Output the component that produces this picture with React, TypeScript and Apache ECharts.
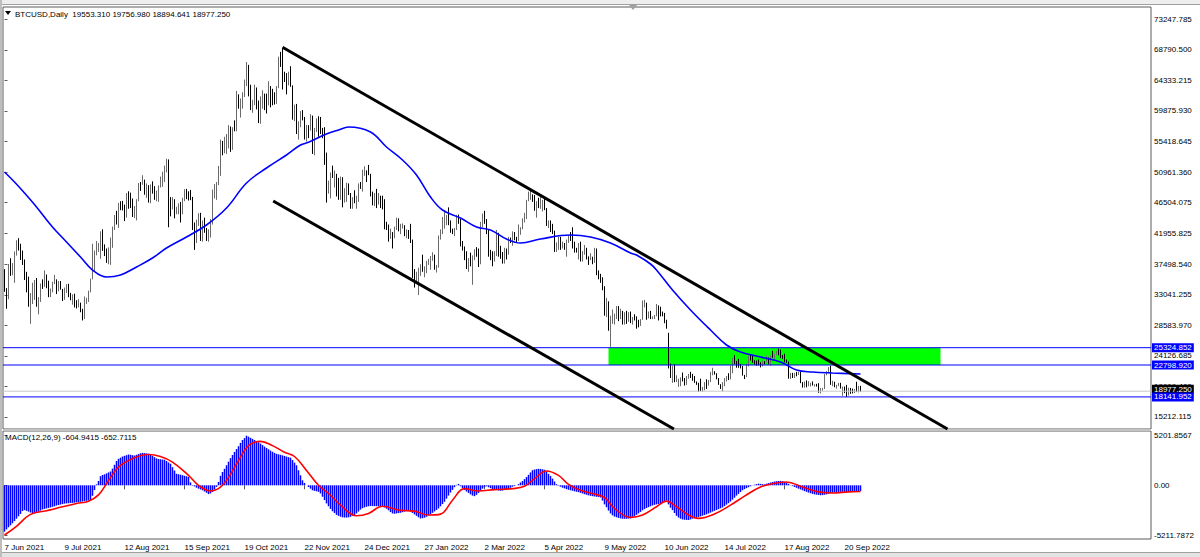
import { useEffect, useRef } from "react";
import * as echarts from "echarts";

// ---------- axis ticks ----------
const dateTickIndex = [0, 30, 60, 90, 120, 150, 180, 210, 240, 270, 300, 330, 360, 390, 420];
const dateTickLabels = [
  "7 Jun 2021", "9 Jul 2021", "12 Aug 2021", "15 Sep 2021", "19 Oct 2021", "22 Nov 2021",
  "24 Dec 2021", "27 Jan 2022", "2 Mar 2022", "5 Apr 2022", "9 May 2022", "10 Jun 2022",
  "14 Jul 2022", "17 Aug 2022", "20 Sep 2022",
];
const priceTicks = [
  15212.115, 19669.4, 24126.685, 28583.97, 33041.255, 37498.54, 41955.825,
  46504.075, 50961.36, 55418.645, 59875.93, 64333.215, 68790.5, 73247.785,
];
const macdTicks = [5201.8567, 0, -5211.7872];

// ---------- BTCUSD daily bars ----------
const opens = [
  35800,33560,33470,37345,36700,37340,39100,40520,40140,38350,
  38050,35800,35700,31680,32500,33680,34660,31600,32160,34650,
  34430,35870,35040,33570,33900,34700,35290,33690,34220,33860,
  32880,33820,34260,33090,32730,32820,31780,31420,31800,30820,
  29790,32110,32310,33580,35380,37270,39460,40000,40010,42240,
  39970,39200,38150,39750,40870,42820,44600,43800,46360,45590,
  45550,44430,47810,47040,45950,44690,44740,46760,49340,49320,
  49550,47700,48990,46840,49070,48830,47050,47170,48850,49330,
  50030,51770,52660,46860,46050,46400,44850,45170,46030,44960,
  47090,48150,47750,47300,47260,43010,40730,43570,44890,42840,
  43210,42230,41030,41560,43790,48120,48200,49110,51510,55360,
  53810,53970,54660,57470,56000,57370,57350,61670,60880,61530,
  62000,64280,66000,62210,60690,60860,63080,60320,58480,60620,
  62230,61320,61000,63230,62940,61450,61130,63310,67570,66970,
  64880,64770,64150,65500,63560,60170,60370,56940,58120,59750,
  58730,56290,57570,57200,58960,53730,57270,57800,57000,56950,
  56510,53600,49200,49360,50580,50470,50640,47590,47140,50050,
  46700,48340,48860,47630,46130,46830,46680,46910,48930,48630,
  50780,50820,50800,50640,47590,46440,47180,46300,47340,46460,
  45900,43570,43160,41560,41910,41820,42740,43950,42590,43100,
  43110,42250,42380,41680,40700,36460,35070,36280,36650,36950,
  36850,37140,37710,37920,38480,38740,36950,37150,41570,42410,
  43840,44120,44340,43570,42400,42090,42550,44580,43960,40540,
  40030,38430,37020,38280,37300,38330,39210,39110,37710,43190,
  44350,43920,42450,39140,38420,38060,38740,41980,39440,38790,
  37850,39670,39340,41140,40950,41800,41250,41070,42360,42890,
  43960,44350,46820,47130,47470,47060,45540,46280,45860,46450,
  46620,45560,43200,43500,42290,42210,39520,40090,41150,39940,
  40550,39700,40830,41500,41370,40530,39740,39470,40460,38120,
  39240,39740,38600,38470,38530,37750,39700,36580,36040,35500,
  34060,30300,31020,28940,29050,29280,30100,31300,29860,30420,
  28720,30310,29200,30320,29100,29650,29560,29270,28630,29470,
  31730,31790,29800,30470,29700,29860,29910,31370,31130,30210,
  30110,29080,27500,22490,22210,22570,20380,20470,20550,20720,
  20710,19990,21090,21230,21030,20730,20280,20100,19780,19300,
  19300,20230,20190,20550,21640,21730,21590,20860,19970,19320,
  20210,20570,20830,20790,22430,23390,23230,23160,22680,22580,
  21310,21250,22950,23840,23800,23300,23270,22990,22820,22610,
  23310,23170,23810,23160,23950,23940,24400,24440,24310,24100,
  23850,23340,23210,20830,21520,21400,21530,21370,21570,20260,
  19550,20290,19800,20050,20130,19950,19990,19800,18790,19290,
  19320,21360,21830,22400,20170,20230,19700,19800,20110,19420,
  19540,18880,18550,19410,19300,18800,19220,19110,19553.31,
];
const highs = [
  36790,34020,37530,38390,37680,39380,41000,41300,40500,39500,
  38200,36400,35700,33300,34800,35200,35500,32700,34700,35300,
  36600,36000,35100,33950,34950,35950,35300,35050,35050,33900,
  34100,34600,34650,33330,33100,33200,32250,32400,31900,31000,
  32800,32600,33650,35400,40500,39500,40900,40600,42300,42600,
  40400,39800,39950,41400,43000,44700,45300,46450,46700,46750,
  46200,47900,48150,47950,47100,46000,47000,49350,49500,50500,
  49850,49300,49050,49150,49600,48900,48250,49000,50300,51000,
  51900,52900,52800,47300,47300,47000,45900,46400,46600,47200,
  48450,48500,48150,48350,47330,43600,44000,44950,45000,43900,
  44300,42800,42600,44100,48400,49200,49500,51850,55700,55500,
  56100,56500,57800,57600,57500,58500,62800,62300,61700,62600,
  64450,67000,66600,63700,61500,63700,63300,61400,62000,62900,
  62400,62400,64200,63500,63100,62600,63500,67800,68500,69000,
  65600,65400,65600,66400,63600,60800,60900,58350,59850,60000,
  59000,57850,57800,59400,59200,57400,58800,59100,59000,57400,
  57500,53800,49700,50900,51900,51200,50700,50100,50300,50200,
  48600,49400,49300,47900,47300,48300,47500,49300,49500,51300,
  51800,51200,52000,50700,48100,47900,48500,47900,47500,47500,
  47000,43700,43300,42700,42200,43000,44300,44200,43400,43450,
  43200,42600,42500,43400,41100,36800,36400,37000,37500,38900,
  37200,38000,38300,38700,39250,38900,37400,41700,42600,44400,
  45400,44700,45800,43900,42700,42800,44700,44750,44100,40900,
  40100,39400,38400,39200,38800,39700,40000,39800,43700,44900,
  45300,44100,42500,39600,39400,39400,42500,42100,40200,39300,
  39900,39800,41500,41400,42300,42200,41500,43300,42900,44200,
  45000,46900,48100,48200,47700,47600,46700,47200,47400,46900,
  47200,45700,43900,43900,43400,42400,40700,41500,41500,40800,
  40600,41100,41700,42200,42900,40800,39900,40600,40800,39450,
  40300,39900,38650,39100,38600,39900,39800,36600,36100,35600,
  34300,32600,32100,30000,30900,30300,31400,31400,31000,30700,
  30500,30700,30500,30600,29800,30200,29900,29400,29500,32200,
  32300,31900,30600,30700,29900,30100,31700,31500,31300,30600,
  30400,29400,27500,23000,22700,22900,21300,20800,21000,21700,
  20900,21200,21500,21800,21500,21200,20400,20200,20800,19600,
  20300,20700,20600,21800,22400,21900,21600,20900,20000,20300,
  20900,21200,21600,22700,23800,24250,23400,23700,22950,22650,
  21350,23000,24150,24400,24150,23500,23450,23600,23200,23450,
  23350,24200,23900,24200,24850,24450,24850,25200,25050,24250,
  24450,23600,23300,21650,21650,21650,21800,21800,21850,20300,
  20400,20550,20450,20200,20400,20000,20050,20150,19450,19450,
  21500,21900,22500,22700,20500,20350,19900,20200,20200,19650,
  19650,19900,19500,19450,19350,19300,20350,19750,19756.98,
];
const lows = [
  33480,31000,32400,35800,35900,34800,38760,39500,38120,37400,
  35200,33400,31300,28800,31700,32300,31300,30200,32000,33900,
  34200,34000,32700,32700,33400,34600,33150,33550,33800,32130,
  32300,33300,32700,32250,31600,31200,31050,31200,30500,29300,
  29500,31700,32000,33400,35300,36400,38800,39300,38300,39450,
  38700,37700,37500,37400,39900,42500,43300,42800,45400,45350,
  43800,44300,45600,45700,44400,44250,43900,46700,48200,49100,
  47650,47200,46500,46400,47800,46900,46700,46600,48700,48800,
  49500,50900,42900,44500,45500,44200,44800,44800,43600,44800,
  46700,47000,46800,46850,42500,39600,40600,43100,40900,40800,
  42100,40900,40800,41400,43300,47100,46900,49050,50400,53400,
  53700,53600,54400,53900,54200,56900,56900,60200,58900,60200,
  61900,63500,62000,60000,59600,60700,60100,58100,58000,60200,
  60000,59500,60700,60400,60700,60800,60900,63200,66300,63000,
  64100,62300,63600,63400,58600,58400,56500,55700,57500,58500,
  55700,55400,55900,57000,53600,53400,56800,56100,56500,55900,
  52000,46500,47800,47100,50100,48700,47400,46900,46900,45800,
  46500,46600,47600,45600,45600,46400,45600,46600,48500,48100,
  50400,49500,50500,47400,46100,46000,45700,46200,45700,45500,
  42600,42500,40800,41200,39800,41300,42500,42300,41900,42700,
  41600,41300,41200,40600,35500,34100,34700,33000,35800,36400,
  35600,36200,37400,36700,38000,36700,36300,37000,41100,41900,
  42700,43200,43200,42100,41900,41600,42500,43400,40100,39500,
  38100,36800,36400,37200,34500,38100,38600,37100,37500,42900,
  43400,41900,38600,38100,37200,37900,38700,38600,38300,37600,
  37600,38200,38900,40600,40200,41000,40600,40900,41800,42600,
  43600,44100,46700,46900,46600,45300,44300,45700,45600,45200,
  45400,43100,42800,42200,41900,39300,39300,39600,39600,39800,
  39600,38600,40600,40900,39800,39200,39200,38200,37900,37900,
  38900,38200,37400,38100,37500,37700,35900,35300,34800,33700,
  30000,29800,27800,25450,28800,28700,29500,29200,29500,28700,
  28700,28800,29100,28900,28700,29300,28100,28300,28500,29400,
  31200,29400,29600,29500,29500,29500,29900,29300,29900,29900,
  28900,28100,22300,20900,20200,20300,20300,19600,19700,20400,
  19800,19900,20800,20900,20500,20200,19900,18900,19000,18900,
  19100,19300,19800,20300,21300,21400,20700,19900,19300,18950,
  19700,20400,20600,20700,21600,22950,22400,22400,22300,21250,
  20750,21050,22600,23450,23100,22850,22700,22750,22450,22600,
  22900,23150,22900,22700,23850,23600,24300,24200,23800,23700,
  23200,23100,20800,20750,20900,20900,21150,21350,20150,19500,
  19500,19550,19700,19650,19800,19650,19650,18750,18650,19050,
  19300,21300,21600,19900,19700,19550,19350,19700,19350,18300,
  18700,18141.952,18350,18600,18650,18700,18850,18800,18894.641,
];
const closes = [
  33560,33470,37345,36700,37340,39100,40520,40140,38350,38050,
  35800,35700,31680,32500,33680,34660,31600,32160,34650,34430,
  35870,35040,33570,33900,34700,35290,33690,34220,33860,32880,
  33820,34260,33090,32730,32820,31780,31420,31800,30820,29790,
  32110,32310,33580,35380,37270,39460,40000,40010,42240,39970,
  39200,38150,39750,40870,42820,44600,43800,46360,45590,45550,
  44430,47810,47040,45950,44690,44740,46760,49340,49320,49550,
  47700,48990,46840,49070,48830,47050,47170,48850,49330,50030,
  51770,52660,46860,46050,46400,44850,45170,46030,44960,47090,
  48150,47750,47300,47260,43010,40730,43570,44890,42840,43210,
  42230,41030,41560,43790,48120,48200,49110,51510,55360,53810,
  53970,54660,57470,56000,57370,57350,61670,60880,61530,62000,
  64280,66000,62210,60690,60860,63080,60320,58480,60620,62230,
  61320,61000,63230,62940,61450,61130,63310,67570,66970,64880,
  64770,64150,65500,63560,60170,60370,56940,58120,59750,58730,
  56290,57570,57200,58960,53730,57270,57800,57000,56950,56510,
  53600,49200,49360,50580,50470,50640,47590,47140,50050,46700,
  48340,48860,47630,46130,46830,46680,46910,48930,48630,50780,
  50820,50800,50640,47590,46440,47180,46300,47340,46460,45900,
  43570,43160,41560,41910,41820,42740,43950,42590,43100,43110,
  42250,42380,41680,40700,36460,35070,36280,36650,36950,36850,
  37140,37710,37920,38480,38740,36950,37150,41570,42410,43840,
  44120,44340,43570,42400,42090,42550,44580,43960,40540,40030,
  38430,37020,38280,37300,38330,39210,39110,37710,43190,44350,
  43920,42450,39140,38420,38060,38740,41980,39440,38790,37850,
  39670,39340,41140,40950,41800,41250,41070,42360,42890,43960,
  44350,46820,47130,47470,47060,45540,46280,45860,46450,46620,
  45560,43200,43500,42290,42210,39520,40090,41150,39940,40550,
  39700,40830,41500,41370,40530,39740,39470,40460,38120,39240,
  39740,38600,38470,38530,37750,39700,36580,36040,35500,34060,
  30300,31020,28940,29050,29280,30100,31300,29860,30420,28720,
  30310,29200,30320,29100,29650,29560,29270,28630,29470,31730,
  31790,29800,30470,29700,29860,29910,31370,31130,30210,30110,
  29080,28400,22490,22210,22570,20380,20470,20550,20720,20710,
  19990,21090,21230,21030,20730,20280,20100,19780,19300,19300,
  20230,20190,20550,21640,21730,21590,20860,19970,19320,20210,
  20570,20830,20790,22430,23390,23230,23160,22680,22580,21310,
  21250,22950,23840,23800,23300,23270,22990,22820,22610,23310,
  23170,23810,23160,23950,23940,24400,24440,24310,24100,23850,
  23340,23210,20830,21520,21400,21530,21370,21570,20260,19550,
  20290,19800,20050,20130,19950,19990,19800,18790,19290,19320,
  21360,21830,22400,20170,20230,19700,19800,20110,19420,19540,
  18880,18550,19410,19300,18800,19220,19110,19553.31,18977.25,
];

// ---------- moving average (blue), read at bar index ----------
const maPoints = [
  [0,50960],[5,49500],[10,47900],[16,45860],[24,42940],[31,40750],[38,38560],[44,36660],
  [51,35640],[58,35930],[66,37100],[74,38410],[81,39870],[91,41480],[101,43230],[111,45710],
  [121,49360],[131,51550],[141,53450],[148,54900],[152,55300],[161,56510],[167,57100],[172,57530],
  [183,56800],[191,54610],[199,52720],[206,50530],[213,47320],[219,45420],[228,44250],[236,42940],
  [243,42500],[251,41190],[258,40600],[268,41190],[283,41770],[293,41480],[303,40600],[313,39140],
  [316,38850],[323,37540],[326,36660],[334,33740],[343,30830],[353,27910],[361,25720],[368,24700],
  [378,23970],[388,23240],[396,22070],[404,21780],[414,21630],[428,21490],
];

// ---------- MACD(12,26,9) ----------
const macdMain = [
  -4860,-4620,-4400,-4200,-3980,-3750,-3500,-3250,-3000,-2700,
  -2600,-2680,-2760,-2850,-2920,-2950,-2870,-2760,-2650,-2530,
  -2480,-2420,-2370,-2320,-2260,-2200,-2120,-2070,-2020,-1970,
  -1920,-1900,-1880,-1860,-1840,-1820,-1790,-1760,-1730,-1700,
  -1660,-1620,-1590,-1560,-1100,-500,100,450,950,1080,
  1150,1250,1350,1450,1750,2150,2550,2780,2900,3020,
  3090,3160,3230,3200,3160,3120,3200,3280,3360,3400,
  3380,3350,3310,3220,3080,2950,2820,2760,2730,2700,
  2680,2550,2400,2260,1900,1550,1210,1160,1110,1060,
  1000,950,880,300,-50,-120,-250,-350,-430,-520,
  -650,-780,-920,-850,-700,-450,-170,350,1000,1400,
  1730,2100,2480,2850,3180,3500,3800,4100,4450,4750,
  4950,5201.8567,5100,4980,4870,4750,4630,4520,4380,4220,
  4060,3920,3780,3640,3520,3400,3300,3250,3200,3140,
  3080,3010,2950,2890,2650,2380,2100,1580,1050,520,
  250,0,-180,-350,-520,-580,-630,-680,-850,-1200,
  -1550,-1900,-2200,-2480,-2720,-2900,-3100,-3200,-3290,-3360,
  -3380,-3380,-3360,-3300,-3200,-3120,-2950,-2750,-2550,-2400,
  -2320,-2250,-2200,-2180,-2180,-2190,-2190,-2210,-2240,-2280,
  -2320,-2450,-2620,-2800,-2950,-2980,-2950,-2910,-2880,-2820,
  -2760,-2700,-2650,-2750,-2900,-3050,-3200,-3350,-3480,-3450,
  -3400,-3300,-3150,-3020,-2890,-2740,-2590,-2430,-2200,-1970,
  -1730,-1400,-1080,-760,-480,-200,50,150,-100,-300,
  -500,-650,-800,-950,-1080,-1140,-1000,-800,-600,-350,
  -200,-100,-200,-300,-400,-460,-500,-540,-570,-560,
  -500,-440,-380,-250,-150,-80,0,120,300,450,
  650,870,1100,1350,1580,1650,1700,1730,1720,1680,
  1630,1450,1200,980,700,400,120,-50,-150,-250,
  -320,-400,-470,-520,-570,-630,-680,-720,-790,-860,
  -930,-990,-1050,-1100,-1140,-1170,-1200,-1230,-1280,-1600,
  -2000,-2300,-2650,-2950,-3150,-3280,-3350,-3420,-3470,-3500,
  -3510,-3510,-3490,-3470,-3360,-3230,-3100,-2950,-2790,-2620,
  -2500,-2380,-2290,-2200,-2110,-2050,-2000,-1960,-1920,-1800,
  -1650,-1600,-2000,-2350,-2600,-2900,-3200,-3380,-3500,-3580,
  -3610,-3630,-3640,-3580,-3500,-3440,-3380,-3320,-3260,-3190,
  -3120,-3040,-2950,-2860,-2760,-2680,-2590,-2500,-2410,-2320,
  -2180,-2020,-1870,-1700,-1500,-1300,-1080,-900,-700,-520,
  -400,-300,-200,-100,-20,60,120,170,150,120,
  100,170,230,290,340,400,430,450,460,420,
  350,270,150,20,-80,-170,-260,-350,-430,-520,
  -610,-690,-760,-830,-900,-950,-980,-1010,-1040,-1030,
  -990,-950,-890,-830,-780,-730,-700,-690,-690,-690,
  -690,-700,-690,-680,-690,-670,-650,-630,-604.9415,
];
const macdSignal = [
  [0,-5211.79],[6,-4300],[13,-3050],[21,-2670],[29,-2250],[36,-1910],[42,-1660],[47,-1000],
  [52,500],[57,1910],[65,2880],[72,3230],[78,3020],[84,2430],[92,1040],[97,0],[103,-590],
  [107,-350],[111,520],[117,2600],[122,4160],[128,4610],[134,4160],[140,3470],[145,3020],
  [151,1560],[157,0],[163,-1040],[168,-2080],[176,-3190],[182,-2950],[189,-2190],[197,-2600],
  [205,-2710],[212,-3120],[218,-3020],[224,-1560],[230,-350],[237,-590],[245,-450],[254,-350],
  [260,-100],[265,700],[271,1500],[277,1040],[282,100],[288,-520],[294,-870],[300,-1280],
  [305,-2430],[313,-3360],[319,-3120],[326,-2250],[331,-1660],[336,-2250],[342,-3120],
  [347,-3470],[355,-3020],[363,-2080],[370,-1140],[378,-170],[386,240],[391,350],[399,-170],
  [407,-690],[414,-800],[422,-690],[428,-652.7115],
];

// ---------- drawn objects ----------
const levelPrices = [25324.852, 22798.92, 18141.952];
const bidPrice = 18977.25;
const zoneIndex = [302, 468];
const zonePrices = [25324.852, 22798.92];
const upperTrend = [[139, 69162], [471.5, 13460]];
const lowerTrend = [[134.35, 46733], [334.7, 13460]];

const FONT = "Liberation Sans";
const X_MIN = -0.75;
const X_MAX = 573.25;

function levelSeries(name: string, price: number, lineColor: string, boxColor: string, dy: number) {
  return {
    type: "line",
    name,
    xAxisIndex: 0,
    yAxisIndex: 0,
    data: [[X_MIN, price], [X_MAX, price]],
    showSymbol: false,
    silent: true,
    lineStyle: { color: lineColor, width: 1, type: "solid" },
    endLabel: {
      show: true,
      distance: 1,
      offset: [0, dy],
      formatter: (p: any) => Number(p.value[1]).toFixed(3),
      color: "#ffffff",
      backgroundColor: boxColor,
      padding: [0, 2, 0, 2],
      fontSize: 8,
      lineHeight: 9,
      fontFamily: FONT,
    },
  };
}

function buildOption(): any {
  const last = closes.length - 1;
  const candleData = closes.map((c, i) => [i, opens[i], c, lows[i], highs[i]]);
  const histData = macdMain.map((v, i) => [i, v]);
  const header = `BTCUSD,Daily  ${opens[last].toFixed(3)} ${highs[last].toFixed(3)} ${lows[last].toFixed(3)} ${closes[last].toFixed(3)}`;
  const macdHeader = `MACD(12,26,9) ${macdMain[last].toFixed(4)} ${macdSignal[macdSignal.length - 1][1].toFixed(4)}`;

  const axisLabelBase = { fontSize: 8, color: "#000000", fontFamily: FONT };

  return {
    animation: false,
    backgroundColor: "#ffffff",
    textStyle: { fontFamily: FONT },
    grid: [
      { left: 3, right: 49, top: 7, height: 422, show: true, borderColor: "#5a5a5a", borderWidth: 1, outerBoundsMode: "none" },
      { left: 3, right: 49, top: 431, height: 108, show: true, borderColor: "#5a5a5a", borderWidth: 1, outerBoundsMode: "none" },
    ],
    xAxis: [
      {
        type: "value", gridIndex: 0, min: X_MIN, max: X_MAX,
        axisLine: { show: false }, axisTick: { show: false }, axisLabel: { show: false }, splitLine: { show: false },
      },
      {
        type: "value", gridIndex: 1, min: X_MIN, max: X_MAX, position: "bottom",
        axisLine: { show: false }, splitLine: { show: false },
        axisTick: { show: true, customValues: dateTickIndex, length: 4, lineStyle: { color: "#5a5a5a" } },
        axisLabel: {
          ...axisLabelBase,
          customValues: dateTickIndex,
          align: "left",
          margin: 4,
          formatter: (v: number) => dateTickLabels[dateTickIndex.indexOf(Math.round(v))] ?? "",
        },
      },
    ],
    yAxis: [
      {
        type: "value", gridIndex: 0, position: "right", min: 13460, max: 75043,
        axisLine: { show: false }, splitLine: { show: false },
        axisTick: { show: true, customValues: priceTicks, length: 3, lineStyle: { color: "#5a5a5a" } },
        axisLabel: { ...axisLabelBase, customValues: priceTicks, margin: 3, formatter: (v: number) => v.toFixed(3) },
      },
      {
        type: "value", gridIndex: 1, position: "right", min: -5631, max: 5695,
        axisLine: { show: false }, splitLine: { show: false },
        axisTick: { show: true, customValues: macdTicks, length: 3, lineStyle: { color: "#5a5a5a" } },
        axisLabel: {
          ...axisLabelBase, customValues: macdTicks, margin: 3,
          formatter: (v: number) => (v === 0 ? "0.00" : v.toFixed(4)),
        },
      },
    ],
    series: [
      {
        type: "candlestick",
        name: "BTCUSD",
        xAxisIndex: 0,
        yAxisIndex: 0,
        data: candleData,
        barWidth: 1,
        silent: true,
        itemStyle: {
          color: "#ffffff",
          color0: "#000000",
          borderColor: "#6a6a6a",
          borderColor0: "#000000",
          borderWidth: 1,
        },
        markArea: {
          silent: true,
          label: { show: false },
          itemStyle: { color: "#00ff00", opacity: 1 },
          data: [[{ xAxis: zoneIndex[0], yAxis: zonePrices[0] }, { xAxis: zoneIndex[1], yAxis: zonePrices[1] }]],
        },
      },
      {
        type: "line",
        name: "MA",
        xAxisIndex: 0,
        yAxisIndex: 0,
        data: maPoints,
        smooth: 0.4,
        showSymbol: false,
        silent: true,
        lineStyle: { color: "#0000ff", width: 1.6 },
      },
      levelSeries("Bid", bidPrice, "#c8c8c8", "#000000", -2),
      ...levelPrices.map((p, i) => levelSeries(`Level ${i + 1}`, p, "#0000ff", "#0000ff", 0)),
      {
        type: "line",
        name: "Trend",
        xAxisIndex: 0,
        yAxisIndex: 0,
        data: [],
        silent: true,
        markLine: {
          silent: true,
          symbol: ["none", "none"],
          lineStyle: { color: "#000000", width: 3, type: "solid" },
          label: { show: false },
          data: [
            [{ coord: upperTrend[0] }, { coord: upperTrend[1] }],
            [{ coord: lowerTrend[0] }, { coord: lowerTrend[1] }],
          ],
        },
      },
      {
        type: "bar",
        name: "MACD",
        xAxisIndex: 1,
        yAxisIndex: 1,
        data: histData,
        barWidth: 1.5,
        silent: true,
        itemStyle: { color: "#0000ff" },
      },
      {
        type: "line",
        name: "Signal",
        xAxisIndex: 1,
        yAxisIndex: 1,
        data: macdSignal,
        smooth: 0.4,
        showSymbol: false,
        silent: true,
        lineStyle: { color: "#ff0000", width: 1.6 },
      },
    ],
    graphic: [
      { type: "rect", silent: true, shape: { x: 0, y: 0, width: 1200, height: 4 }, style: { fill: "#eeeeee" } },
      { type: "line", silent: true, shape: { x1: 0, y1: 4.5, x2: 1200, y2: 4.5 }, style: { stroke: "#a0a0a0", lineWidth: 1 } },
      { type: "rect", silent: true, shape: { x: 0, y: 553, width: 1200, height: 4 }, style: { fill: "#e4e4e4" } },
      { type: "line", silent: true, shape: { x1: 0, y1: 552.5, x2: 1200, y2: 552.5 }, style: { stroke: "#a0a0a0", lineWidth: 1 } },
      { type: "rect", silent: true, shape: { x: 0, y: 0, width: 2, height: 557 }, style: { fill: "#bdbdbd" } },
      { type: "rect", silent: true, shape: { x: 3, y: 429.5, width: 1148, height: 1 }, style: { fill: "#d8d8d8" } },
      { type: "polygon", silent: true, shape: { points: [[629, 5], [637, 5], [633, 10]] }, style: { fill: "#a0a0a0" } },
      { type: "polygon", silent: true, shape: { points: [[5, 11], [11, 11], [8, 15]] }, style: { fill: "#000000" } },
      {
        type: "text", silent: true, x: 15, y: 14, z: 100,
        style: { text: header, font: `8px "${FONT}"`, fill: "#000000", verticalAlign: "middle" },
      },
      {
        type: "text", silent: true, x: 5, y: 437, z: 100,
        style: { text: macdHeader, font: `8px "${FONT}"`, fill: "#000000", verticalAlign: "middle" },
      },
    ],
  };
}

export default function App() {
  const ref = useRef<HTMLDivElement>(null);
  useEffect(() => {
    if (!ref.current) return;
    const chart = echarts.init(ref.current, null, { renderer: "svg" });
    chart.setOption(buildOption());
    return () => {
      chart.dispose();
    };
  }, []);
  return (
    <div
      ref={ref}
      style={{ position: "fixed", left: 0, top: 0, width: 1200, height: 557, background: "#ffffff" }}
    />
  );
}
